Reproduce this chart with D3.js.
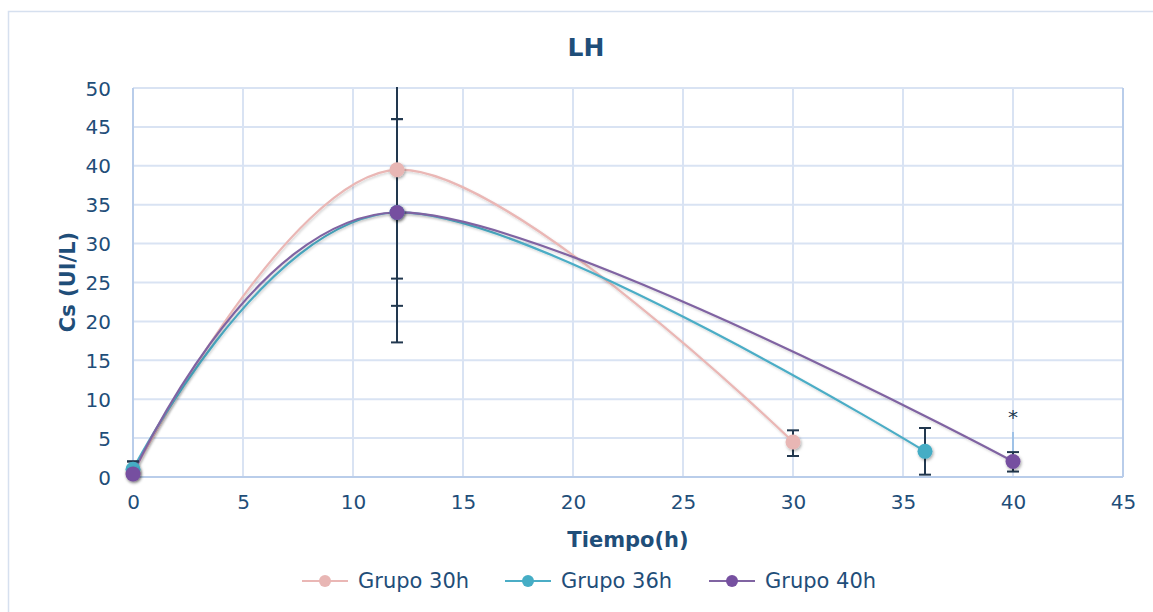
<!DOCTYPE html>
<html><head><meta charset="utf-8">
<script src="https://cdn.jsdelivr.net/npm/d3@7"></script>
<style>body{margin:0;background:#fff}svg{display:block}</style>
</head><body><svg id="c" width="1153" height="612"></svg>
<script>
const seriesNames = ["Grupo 30h", "Grupo 36h", "Grupo 40h"];
const timesG30 = [0, 12, 30];
const valuesG30 = [0.5, 39.5, 4.5];
const errPlusG30 = [1.5, 22.2, 1.5];
const errMinusG30 = [0.3, 22.2, 1.8];
const timesG36 = [0, 12, 36];
const valuesG36 = [1.0, 34, 3.3];
const errPlusG36 = [1.0, 12, 3.0];
const errMinusG36 = [0.8, 12, 3.0];
const timesG40 = [0, 12, 40];
const valuesG40 = [0.4, 34, 2.0];
const errPlusG40 = [1.0, 12, 1.2];
const errMinusG40 = [0.3, 8.5, 1.3];
const xTicks = [0, 5, 10, 15, 20, 25, 30, 35, 40, 45];
const yTicks = [0, 5, 10, 15, 20, 25, 30, 35, 40, 45, 50];
const extraLine40 = [2.0, 5.8];

const colors = {line:["#eab7b5","#4badc6","#8064a2"], marker:["#e8b6b4","#45adc5","#7650a0"]};
const textCol = "#1f4e79";
const font = "'DejaVu Sans', Verdana, sans-serif";

const svg = d3.select("#c");
const defs = svg.append("defs");
const f = defs.append("filter").attr("id","sh").attr("x","-50%").attr("y","-50%").attr("width","200%").attr("height","200%");
f.append("feDropShadow").attr("dx",1).attr("dy",1.5).attr("stdDeviation",1.5).attr("flood-color","#000").attr("flood-opacity",0.35);
const fl = defs.append("filter").attr("id","lsh").attr("x","-5%").attr("y","-5%").attr("width","110%").attr("height","110%");
fl.append("feDropShadow").attr("dx",1).attr("dy",1.5).attr("stdDeviation",1.2).attr("flood-color","#000").attr("flood-opacity",0.18);
defs.append("clipPath").attr("id","clip").append("rect").attr("x",125).attr("y",87).attr("width",1000).attr("height",400);

// frame
svg.append("path").attr("d","M8.5,612 V11.5 H1153").attr("fill","none").attr("stroke","#d6e0ef").attr("stroke-width",1.5);

const x = d3.scaleLinear().domain([0,45]).range([133,1123]);
const y = d3.scaleLinear().domain([0,50]).range([477,88]);

// gridlines
const g = svg.append("g");
g.selectAll(".hg").data(yTicks).join("line").attr("x1",x(0)).attr("x2",x(45))
  .attr("y1",d=>y(d)).attr("y2",d=>y(d)).attr("stroke","#d9e3f3").attr("stroke-width",2);
g.selectAll(".vg").data(xTicks).join("line").attr("y1",y(0)).attr("y2",y(50))
  .attr("x1",d=>x(d)).attr("x2",d=>x(d)).attr("stroke",d=>(d===0||d===45)?"#b9cdea":"#d9e3f3").attr("stroke-width",2);
g.append("line").attr("x1",x(0)).attr("x2",x(45)).attr("y1",y(0)).attr("y2",y(0)).attr("stroke","#b9cdea").attr("stroke-width",2);

// axes
const xa = svg.append("g").attr("transform",`translate(0,${y(0)})`).call(d3.axisBottom(x).tickValues(xTicks).tickSize(0).tickPadding(18));
const ya = svg.append("g").attr("transform",`translate(${x(0)-22},0)`).call(d3.axisLeft(y).tickValues(yTicks).tickSize(0).tickPadding(0));
[xa,ya].forEach(a=>{a.select(".domain").remove();a.selectAll("text").attr("fill",textCol).style("font-family",font).style("font-size","20px");});
ya.selectAll("text").attr("dy","0.35em");

// title & labels
svg.append("text").attr("x",586).attr("y",56).attr("text-anchor","middle").attr("fill",textCol)
  .style("font-family",font).style("font-weight","bold").style("font-size","25px").text("LH");
svg.append("text").attr("transform","translate(75,282) rotate(-90)").attr("text-anchor","middle").attr("fill",textCol)
  .style("font-family",font).style("font-weight","bold").style("font-size","21px").text("Cs (UI/L)");
svg.append("text").attr("x",628).attr("y",547).attr("text-anchor","middle").attr("fill",textCol)
  .style("font-family",font).style("font-weight","bold").style("font-size","21px").text("Tiempo(h)");

const series = [
  {t:timesG30,v:valuesG30,ep:errPlusG30,em:errMinusG30},
  {t:timesG36,v:valuesG36,ep:errPlusG36,em:errMinusG36},
  {t:timesG40,v:valuesG40,ep:errPlusG40,em:errMinusG40}
].map(s=>s.t.map((t,i)=>({t,v:s.v[i],ep:s.ep[i],em:s.em[i]})));

const line = d3.line().x(d=>x(d.t)).y(d=>y(d.v)).curve(d3.curveCardinal.tension(0));
const plot = svg.append("g").attr("clip-path","url(#clip)");
series.forEach((s,i)=>{
  plot.append("path").datum(s).attr("d",line).attr("fill","none").attr("stroke",colors.line[i]).attr("stroke-width",2.2).attr("filter","url(#lsh)");
});
// extra light-blue line at 40
plot.append("line").attr("x1",x(40)).attr("x2",x(40)).attr("y1",y(extraLine40[0])).attr("y2",y(extraLine40[1])).attr("stroke","#9fc2e7").attr("stroke-width",2);
// error bars
series.forEach((s,i)=>{
  s.forEach(d=>{
    const top=d.v+d.ep, bot=d.v-d.em;
    plot.append("line").attr("x1",x(d.t)).attr("x2",x(d.t)).attr("y1",y(top)).attr("y2",y(bot)).attr("stroke","#22384f").attr("stroke-width",2);
    [top,bot].forEach(e=>{ if(e<=50) plot.append("line").attr("x1",x(d.t)-6).attr("x2",x(d.t)+6).attr("y1",y(e)).attr("y2",y(e)).attr("stroke","#22384f").attr("stroke-width",2);});
  });
});
// markers
series.forEach((s,i)=>{
  svg.append("g").selectAll("circle").data(s).join("circle").attr("cx",d=>x(d.t)).attr("cy",d=>y(d.v)).attr("r",7.5)
    .attr("fill",colors.marker[i]).attr("filter","url(#sh)");
});
svg.append("text").attr("x",x(40)).attr("y",424).attr("text-anchor","middle").attr("fill","#22384f")
  .style("font-family",font).style("font-size","20px").text("*");

// legend
const legX = [302,505,709];
seriesNames.forEach((n,i)=>{
  const lg = svg.append("g");
  lg.append("line").attr("x1",legX[i]).attr("x2",legX[i]+46).attr("y1",581).attr("y2",581).attr("stroke",colors.line[i]).attr("stroke-width",2.2);
  lg.append("circle").attr("cx",legX[i]+23).attr("cy",581).attr("r",6).attr("fill",colors.marker[i]);
  lg.append("text").attr("x",legX[i]+56).attr("y",581).attr("dy","0.35em").attr("fill",textCol)
    .style("font-family",font).style("font-size","21px").text(n);
});
</script></body></html>
